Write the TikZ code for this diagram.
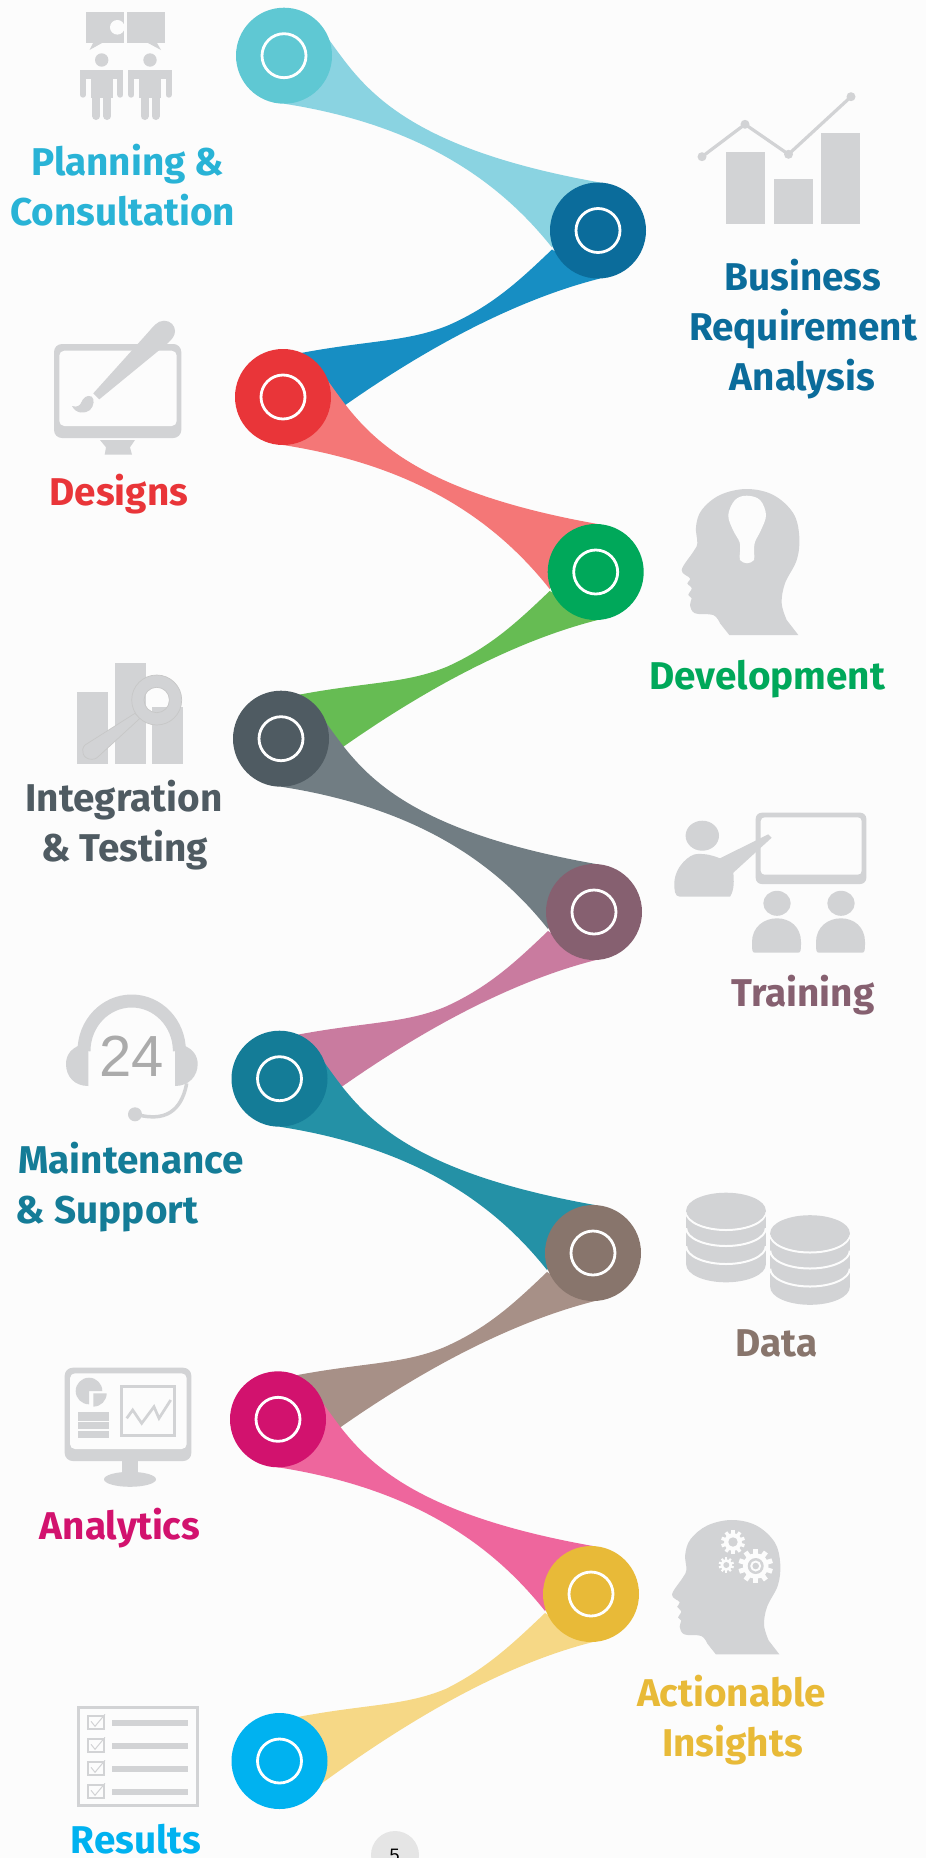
\documentclass[tikz,border=0pt]{standalone}
\usepackage{fontspec}
\setmainfont{Fira Sans}
\newfontfamily\arialfont{Liberation Sans}
\pgfdeclarelayer{back}
\pgfsetlayers{back,main}

\definecolor{pagebg}{HTML}{FCFCFC}
\definecolor{icongrey}{HTML}{D2D3D5}
\definecolor{planningcol}{HTML}{5FC8D3}
\definecolor{planningtxt}{HTML}{29B3D6}
\definecolor{planningrib}{HTML}{8AD3E1}
\definecolor{businesscol}{HTML}{0B6C9B}
\definecolor{businessrib}{HTML}{178EC3}
\definecolor{designscol}{HTML}{E93539}
\definecolor{designsrib}{HTML}{F47777}
\definecolor{developcol}{HTML}{00A85A}
\definecolor{developrib}{HTML}{66BC53}
\definecolor{integratecol}{HTML}{4F5B62}
\definecolor{integraterib}{HTML}{717D83}
\definecolor{trainingcol}{HTML}{866070}
\definecolor{trainingrib}{HTML}{C97B9F}
\definecolor{supportcol}{HTML}{147C97}
\definecolor{supportrib}{HTML}{2491A6}
\definecolor{datacol}{HTML}{88756C}
\definecolor{datarib}{HTML}{A79087}
\definecolor{analyticscol}{HTML}{D2126E}
\definecolor{analyticsrib}{HTML}{EE669D}
\definecolor{insightscol}{HTML}{E8BA38}
\definecolor{insightsrib}{HTML}{F6D886}
\definecolor{resultscol}{HTML}{00B2F0}

\tikzset{
  hub/.style={circle,minimum size=96pt,inner sep=0pt},
  ring/.style={circle,draw=white,line width=2.8pt,minimum size=44pt,inner sep=0pt},
  steplabel/.style={anchor=base,font=\bfseries\fontsize{38.7}{38.7}\selectfont,inner sep=0pt},
  icon/.style={fill=icongrey}
}

% ribbon going down to the right, then ribbon going up to the right
\newcommand{\ribdown}[3]{
  \fill[#3] ([shift={(45,-16)}]#1.center) .. controls ([shift={(78,29.3)}]#1.center) and ([shift={(-198,-83.5)}]#2.center) .. ([shift={(2,-48)}]#2.center)
    -- ([shift={(-46,17)}]#2.center) .. controls ([shift={(-98,-48.5)}]#2.center) and ([shift={(137,69.3)}]#1.center) .. ([shift={(0,48)}]#1.center) -- cycle;
}
\newcommand{\ribup}[3]{
  \fill[#3] ([shift={(18,-44)}]#1.center) .. controls ([shift={(87,-57)}]#1.center) and ([shift={(125,-55)}]#1.center) .. ([shift={(166,-72)}]#1.center)
    .. controls ([shift={(-105,75)}]#2.center) and ([shift={(-78,49.5)}]#2.center) .. ([shift={(-46,19)}]#2.center)
    -- ([shift={(2,48)}]#2.center) .. controls ([shift={(-83,69.5)}]#2.center) and ([shift={(137,-47)}]#1.center) .. ([shift={(40,24)}]#1.center) -- cycle;
}
\newcommand{\headshape}{
  \fill[icon] (59.3,155) -- (128.3,155) -- plot[smooth,tension=.6] coordinates {(116.7,140) (111.7,123.3) (115,103.3) (126.7,80) (129.3,56.7) (123.3,33.3) (103.3,15) (76.7,9) (50,15) (31.7,30) (26,46.7) (27.3,63.3) (23.3,71.7) (11.7,90) (20,98.3) (17.3,103.3) (21.7,108.3) (18.3,115) (21.7,118.3) (20,125) (25,133.3) (43.3,135) (50,143.3)} -- cycle;
}
\newcommand{\stickman}[1]{
  \fill[icon] (#1,60) circle (6.7);
  \fill[icon] (#1-21.7,70) rectangle (#1+21.7,79);
  \fill[icon] (#1-11,70) rectangle (#1+11,98);
  \draw[icongrey,line width=6pt,line cap=round] (#1-18.7,74) -- (#1-18.7,94.7);
  \draw[icongrey,line width=6pt,line cap=round] (#1+18.7,74) -- (#1+18.7,94.7);
  \draw[icongrey,line width=8pt,line cap=round] (#1-5.5,90) -- (#1-5.5,116);
  \draw[icongrey,line width=8pt,line cap=round] (#1+5.5,90) -- (#1+5.5,116);
}
\newcommand{\pupil}[1]{
  \fill[icon] (#1,903.3) ellipse (13.7 and 12.5);
  \fill[icon] (#1-22,952.7) .. controls (#1-25,952.7) and (#1-25,950) .. (#1-25,942) .. controls (#1-25,927) and (#1-13,918.3) .. (#1,918.3) .. controls (#1+13,918.3) and (#1+24,927) .. (#1+24,942) .. controls (#1+24,950) and (#1+24,952.7) .. (#1+21,952.7) -- cycle;
}
\newcommand{\dbstack}[2]{
  \fill[icon] (#1-39.8,#2) -- (#1-39.8,#2+54) arc (180:0:39.8 and 17.8) -- (#1+39.8,#2) -- cycle;
  \foreach \low in {1.7,17.7,35.7}
    \draw[pagebg,line width=2pt] (#1-39.8,#2+\low) arc (180:0:39.8 and 17.8);
  \fill[icon] (#1,#2) ellipse (39.8 and 17.8);
}
\newcommand{\cogwheel}[3]{
  \fill[pagebg] (#1,#2) circle (#3*.74);
  \foreach \ang in {0,36,...,324}
    \fill[pagebg,rotate around={\ang:(#1,#2)}] (#1-#3*.14,#2-#3) rectangle (#1+#3*.14,#2);
}
\newcommand{\tickbox}[1]{
  \draw[icongrey,line width=2pt] (87.8,#1+1) rectangle (103.5,#1+13.7);
  \draw[icongrey,line width=1pt] (91,#1+6) -- (95,#1+11) -- (105,#1-1);
  \fill[icon] (112.2,#1+4.7) rectangle (187.8,#1+10.7);
}

\begin{document}
\begin{tikzpicture}[x=1pt,y=1pt,yscale=-1]
  \useasboundingbox (0,0) rectangle (926,1858);

  \node[hub,fill=planningcol] (planning) at (284,55.7) {};
  \node[ring] (planningring) at (planning) {};
  \node[hub,fill=businesscol] (business) at (598,230.5) {};
  \node[ring] (businessring) at (business) {};
  \node[hub,fill=designscol] (designs) at (283,397) {};
  \node[ring] (designsring) at (designs) {};
  \node[hub,fill=developcol] (develop) at (595.7,572) {};
  \node[ring] (developring) at (develop) {};
  \node[hub,fill=integratecol] (integrate) at (281,738.7) {};
  \node[ring] (integratering) at (integrate) {};
  \node[hub,fill=trainingcol] (training) at (594,912) {};
  \node[ring] (trainingring) at (training) {};
  \node[hub,fill=supportcol] (support) at (279.5,1078.7) {};
  \node[ring] (supportring) at (support) {};
  \node[hub,fill=datacol] (data) at (593,1253) {};
  \node[ring] (dataring) at (data) {};
  \node[hub,fill=analyticscol] (analytics) at (278,1419.3) {};
  \node[ring] (analyticsring) at (analytics) {};
  \node[hub,fill=insightscol] (insights) at (591,1594) {};
  \node[ring] (insightsring) at (insights) {};
  \node[hub,fill=resultscol] (results) at (279.5,1761) {};
  \node[ring] (resultsring) at (results) {};

  \begin{pgfonlayer}{back}
    \fill[pagebg] (0,0) rectangle (926,1858);
    \ribup{designs}{business}{businessrib}
    \ribdown{planning}{business}{planningrib}
    \ribup{integrate}{develop}{developrib}
    \ribdown{designs}{develop}{designsrib}
    \ribup{support}{training}{trainingrib}
    \ribdown{integrate}{training}{integraterib}
    \ribup{analytics}{data}{datarib}
    \ribdown{support}{data}{supportrib}
    \ribup{results}{insights}{insightsrib}
    \ribdown{analytics}{insights}{analyticsrib}
  \end{pgfonlayer}

  \node[steplabel,text=planningtxt] (planninga) at (127.8,175) {Planning \&};
  \node[steplabel,text=planningtxt] (planningb) at (122.6,225) {Consultation};
  \node[steplabel,text=businesscol] (businessa) at (802.7,290) {Business};
  \node[steplabel,text=businesscol] (businessb) at (803,340) {Requirement};
  \node[steplabel,text=businesscol] (businessc) at (802.4,390.7) {Analysis};
  \node[steplabel,text=designscol] (designsa) at (119,505.7) {Designs};
  \node[steplabel,text=developcol] (developa) at (767.3,689.3) {Development};
  \node[steplabel,text=integratecol] (integratea) at (124,811.7) {Integration};
  \node[steplabel,text=integratecol] (integrateb) at (124.5,861) {\& Testing};
  \node[steplabel,text=trainingcol] (traininga) at (803,1006) {Training};
  \node[steplabel,text=supportcol] (supporta) at (131,1173.3) {Maintenance};
  \node[steplabel,text=supportcol] (supportb) at (107,1223.3) {\& Support};
  \node[steplabel,text=datacol] (dataa) at (776.7,1356.7) {Data};
  \node[steplabel,text=analyticscol] (analyticsa) at (120,1539.3) {Analytics};
  \node[steplabel,text=insightscol] (insightsa) at (731.6,1706.7) {Actionable};
  \node[steplabel,text=insightscol] (insightsb) at (732.5,1756.7) {Insights};
  \node[steplabel,text=resultscol] (resultsa) at (136,1853.3) {Results};

  % page number
  \node[circle,fill=black!10,minimum size=48pt,inner sep=0pt] (pagedot) at (395,1855) {};
  \node[anchor=base,inner sep=0pt,font=\arialfont\fontsize{18}{18}\selectfont] (pagenum) at (394.6,1861) {5};

  % planning
  \fill[icon] (86,11.7) rectangle (124,43.3);
  \fill[icon] (93,43) -- (89.5,50) -- (102,43) -- cycle;
  \fill[pagebg] (117.3,27.3) circle (7.3);
  \fill[icon] (126.7,11.7) rectangle (164.7,43.3);
  \fill[icon] (148,43) -- (161,50) -- (157,43) -- cycle;
  \stickman{101.7}
  \stickman{150}

  % business
  \fill[icon] (726,152) rectangle (765,224);
  \fill[icon] (774,179) rectangle (813,224);
  \fill[icon] (821,133) rectangle (860,224);
  \draw[icongrey,line width=3.2pt] (702,156.7) -- (745,124.3) -- (788.5,154.3) -- (851,96.7);
  \foreach \dotx/\doty in {702/156.7,745/124.3,788.5/154.3,851/96.7}
    \fill[icon] (\dotx,\doty) circle (4.5);

  % designs
  \fill[icon,rounded corners=8pt] (54,344) rectangle (181.3,438);
  \fill[pagebg,rounded corners=5pt] (59.3,350.7) rectangle (176.7,426);
  \fill[icon] (100,440) -- (135,440) -- (130,447.3) -- (132,454.7) -- (104.7,454.7) -- (106,447.3) -- cycle;
  \fill[icon] (93.3,393.3) -- (147.3,333.3) .. controls (153,327) and (157,320.7) .. (164,320.7) .. controls (171,320.7) and (175,326) .. (175,331) .. controls (175,336) and (172,339) .. (168,343) -- (99.3,399.3) -- cycle;
  \fill[icon] (72,406) .. controls (77,407.5) and (80,406) .. (81.5,402) .. controls (83,398) and (87,394.5) .. (91.5,396.5) .. controls (95,399) and (94,406) .. (90,410) .. controls (85,414) and (76,414) .. (72,406);

  % development
  \begin{scope}[shift={(670,480)}]
    \headshape
    \fill[pagebg] plot[smooth cycle,tension=.6] coordinates {(58.3,35) (65,20) (76.7,15.7) (90,20) (96,35) (91,50) (85,62) (84,72) (84,80) (77,83.3) (70,80) (70,72) (69.5,62) (63,50)};
  \end{scope}

  % integration
  \fill[icon] (77,692) rectangle (108,764);
  \fill[icon] (115,663.3) rectangle (146,764);
  \fill[icon] (152,706.7) rectangle (183,764);
  \draw[icon,draw=black!22,line width=.7pt] (135,713.3) -- (85,745) .. controls (80,750) and (83,759.3) .. (91.7,759.3) .. controls (96,759.3) and (98,757) .. (100,755) -- (140,718.3) -- cycle;
  \draw[icon,draw=black!22,line width=.7pt,even odd rule] (156.7,700) circle (25) (156.7,700) circle (12.7);

  % training
  \fill[icon,rounded corners=6pt] (755.7,812.7) rectangle (866.3,884);
  \fill[pagebg,rounded corners=4pt] (760.7,817.3) rectangle (861.7,874.7);
  \fill[icon] (702.3,835.7) ellipse (16.7 and 15);
  \fill[icon] (680,896.7) .. controls (674.5,896.7) and (674.3,890) .. (674.3,883) .. controls (675,866) and (690,854) .. (697,854) .. controls (706,853.5) and (713,855.5) .. (720,858.3) -- (768.3,834.3) -- (771.7,837.7) -- (733.3,872.7) .. controls (734,880) and (734.5,890) .. (730,896.7) -- cycle;
  \pupil{777}
  \pupil{841}

  % support
  \draw[icongrey,line width=13pt] (84,1051) arc (180:360:47.7 and 50);
  \fill[icon] (88.3,1043) .. controls (70,1046) and (66,1056) .. (66,1064) .. controls (66,1076) and (74,1086) .. (88.3,1086) -- cycle;
  \fill[icon] (175,1043) .. controls (193,1046) and (197.7,1056) .. (197.7,1064) .. controls (197.7,1076) and (189,1086) .. (175,1086) -- cycle;
  \draw[icongrey,line width=3.5pt] (186.7,1083.3) .. controls (183,1103) and (172,1124) .. (137,1114.5);
  \fill[icon] (135,1114.3) circle (7);
  \node[text=black!33,inner sep=0pt,font=\arialfont\fontsize{58}{58}\selectfont] (hours) at (132,1055.8) {24};

  % data
  \dbstack{726}{1210.5}
  \dbstack{810}{1233}

  % analytics
  \fill[icon,rounded corners=8pt] (64.7,1367.7) rectangle (191.3,1461);
  \fill[pagebg,rounded corners=5pt] (70,1373.3) rectangle (186.7,1449);
  \fill[icon] (122.3,1461) rectangle (138.3,1473);
  \fill[icon] (130,1479.3) ellipse (26 and 7.5);
  \fill[icon] (89,1391) -- (102.3,1391) arc (0:-270:13.3) -- cycle;
  \fill[icon] (93.3,1393.3) -- (106.7,1393.3) arc (0:90:13.3) -- cycle;
  \fill[icon] (78.3,1412.3) rectangle (109,1420.7);
  \fill[icon] (78.3,1422.3) rectangle (109,1429);
  \fill[icon] (78.3,1431) rectangle (109,1438.3);
  \draw[icongrey,line width=2.7pt] (121.3,1386.3) rectangle (174.7,1435.3);
  \draw[icongrey,line width=2.7pt] (126.7,1418.3) -- (132.7,1410) -- (141.7,1423.3) -- (154,1406.7) -- (159,1418.3) -- (170.7,1400);

  % insights
  \begin{scope}[shift={(661.3,1511.7)},scale=.92]
    \headshape
  \end{scope}
  \cogwheel{733}{1542}{12}
  \fill[icon] (733,1542) circle (4.7);
  \cogwheel{755.7}{1566}{17.3}
  \fill[icon] (755.7,1566) circle (8);
  \fill[pagebg] (755.7,1566) circle (5.5);
  \fill[icon] (755.7,1566) circle (3.3);
  \cogwheel{726.3}{1565}{7.7}
  \fill[icon] (726.3,1565) circle (3);

  % results
  \draw[icongrey,line width=3pt] (78.3,1707.5) rectangle (197.5,1805.2);
  \tickbox{1715.3}
  \tickbox{1738.3}
  \tickbox{1761.3}
  \tickbox{1784.3}
\end{tikzpicture}
\end{document}
